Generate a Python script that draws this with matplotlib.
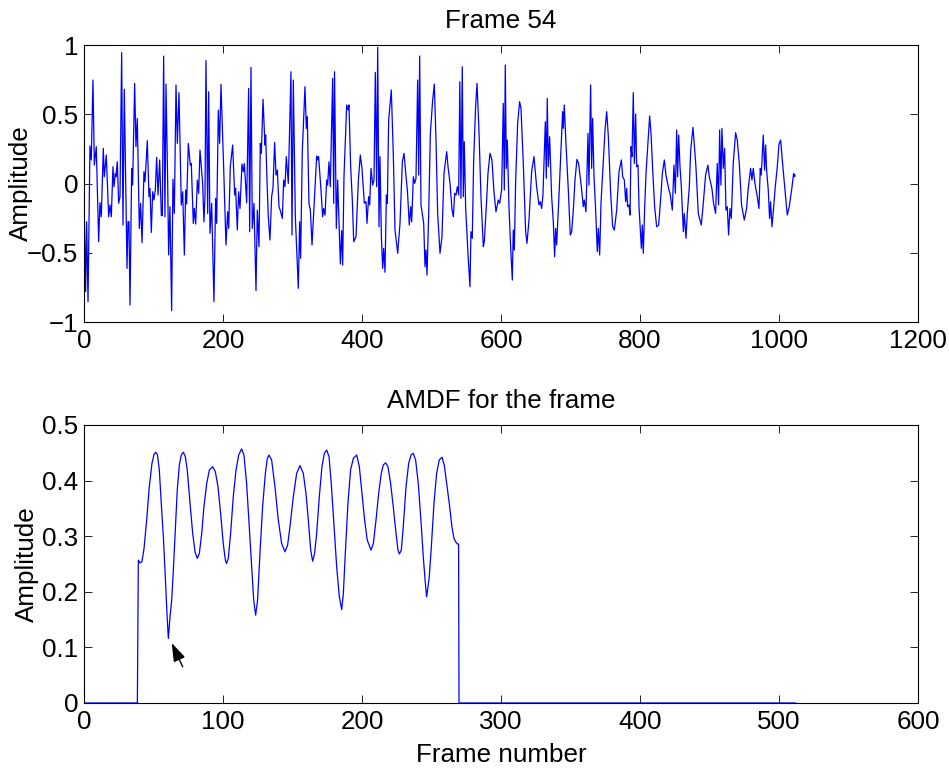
import matplotlib
matplotlib.use("Agg")
import matplotlib.pyplot as plt

plt.rcParams['font.family'] = ['Liberation Sans', 'DejaVu Sans']

# ---- Top panel: speech frame (sample index, amplitude) ----
frame_idx = [
    0, 2.4, 3.8, 5.8, 8.6, 10.5, 12.9, 14.9, 17.7, 21.1, 23.0, 24.9, 27.8, 29.2, 32.1,
    35.5, 37.4, 39.3, 41.7, 43.2, 45.1, 46.0, 47.9, 49.9, 51.8, 54.2, 56.1, 58.0, 61.9,
    63.3, 64.7, 66.2, 68.6, 70.0, 72.9, 74.8, 76.7, 79.6, 81.5, 83.5, 86.3, 87.8, 91.1,
    93.5, 95.0, 96.9, 98.8, 100.7, 102.6, 104.6, 106.5, 108.9, 111.3, 112.7, 114.6, 116.5,
    118.0, 120.4, 121.8, 123.7, 126.1, 128.0, 130.0, 132.4, 134.3, 136.7, 138.1, 140.0,
    142.0, 144.4, 146.3, 147.7, 150.1, 153.0, 154.4, 157.3, 158.7, 160.7, 163.1, 165.0,
    166.9, 168.8, 170.7, 172.6, 174.1, 175.5,
    178.0, 179.4, 181.3, 183.7, 187.0, 189.4, 190.9, 193.3, 195.2, 197.1, 201.0, 204.3,
    206.7, 208.2, 210.5, 213.9, 216.8, 218.2, 220.6, 222.5, 224.5, 227.3, 229.3, 230.7,
    234.1, 236.9, 238.4, 240.3, 242.2, 244.6, 247.5, 249.4, 251.8, 253.7, 255.2, 257.6,
    260.4, 261.4, 263.3, 265.2, 267.6, 270.0, 271.9, 274.3, 276.3, 278.2, 280.6, 283.0,
    285.4, 287.3, 289.2, 291.1, 294.0, 297.8, 299.3, 301.2, 304.1, 308.4, 310.3, 311.7,
    314.1, 318.0, 319.9, 321.3, 323.7, 325.7, 328.1, 332.4, 334.8, 336.2, 337.6, 341.0,
    343.4, 344.9, 346.8, 349.2, 350.6, 352.5, 354.4, 357.8, 359.3, 360.5,
    363.1, 365.0, 368.9, 370.8, 372.2, 374.1, 378.0, 379.9, 381.3, 383.7, 386.1, 388.1,
    391.4, 394.8, 397.6, 400.0, 403.4, 405.8, 407.2, 409.6, 411.1, 413.0, 415.4, 417.3,
    419.2, 421.1, 422.6, 424.5, 425.9, 427.9, 429.8, 431.2, 433.1, 435.1, 436.5, 438.4,
    442.2, 445.1, 447.5, 451.4, 454.7, 458.1, 460.5, 463.4, 465.3, 468.1, 470.1, 471.5,
    473.9, 475.8, 477.7, 480.1, 481.6, 483.0, 484.9, 488.8, 490.7, 492.1, 493.6, 496.0,
    498.4, 501.7, 504.1, 506.5, 508.9, 512.3, 515.1, 518.0, 521.9, 523.8, 526.7, 529.6,
    531.5, 533.4, 535.3, 537.2, 539.1, 540.8,
    542.4, 544.3, 545.8, 547.2, 549.2, 551.5, 553.0, 555.4, 556.8, 558.7, 560.7, 563.5,
    565.5, 568.3, 571.2, 574.6, 576.0, 579.4, 581.3, 584.2, 587.0, 589.9, 592.8, 596.2,
    598.1, 601.0, 603.3, 604.8, 606.2, 607.7, 609.1, 611.5, 613.9, 616.3, 617.7, 619.2,
    621.1, 624.0, 626.8, 628.8, 632.1, 635.5, 637.4, 640.3, 644.1, 647.5, 651.3, 654.7,
    656.6, 658.5, 660.4, 663.8, 665.2, 666.6, 668.1, 670.0, 672.9, 675.3, 677.2, 678.6,
    680.1, 683.4, 686.3, 688.7, 689.7, 691.1, 693.5, 696.9, 699.7, 701.7, 704.1, 706.5,
    709.3, 711.7,
    715.6, 718.5, 719.9, 722.3, 725.2, 726.6, 729.0, 730.5, 731.9, 733.8, 736.2, 738.6,
    740.1, 742.0, 743.9, 747.3, 749.7, 752.1, 754.5, 757.8, 760.7, 763.1, 766.5, 769.8,
    773.2, 775.1, 777.5, 779.4, 780.8, 782.3, 784.2, 785.7, 787.1, 788.5, 790.4, 791.9,
    793.8, 795.2, 797.2, 798.6, 802.0, 803.4, 804.8, 806.7, 808.7, 811.5, 813.9, 815.9,
    818.3, 821.1, 824.0, 826.9, 829.8, 832.2, 835.0, 837.4, 841.7, 843.7, 846.5, 848.9,
    850.9, 852.8, 854.2, 855.7, 857.6, 859.5, 862.4, 863.8, 866.2, 868.1, 871.0, 873.0,
    876.3,
    877.7, 880.5, 883.9, 888.2, 891.1, 894.4, 897.8, 899.7, 903.5, 905.9, 908.8, 911.2,
    913.1, 914.6, 916.5, 917.9, 919.9, 921.8, 923.7, 925.6, 927.5, 929.5, 931.4, 934.2,
    937.6, 940.0, 942.9, 946.2, 950.1, 953.4, 955.8, 959.2, 961.1, 963.0, 965.4, 968.8,
    971.2, 973.1, 974.5, 977.4, 979.3, 980.8, 982.2, 984.6, 986.5, 987.9, 989.9, 991.8,
    994.7, 997.6, 1000.0, 1002.4, 1005.2, 1008.6, 1011.9, 1014.8, 1018.2, 1021.1, 1022.5,
    1023.0,
]
frame_amp = [
    -0.083, -0.78, -0.276, -0.853, 0.271, 0.17, 0.747, 0.133, 0.266, -0.42, -0.139, -0.24,
    0.254, 0.049, 0.206, -0.24, -0.155, -0.24, 0.121, -0.023, 0.073, 0.049, 0.157, -0.143,
    -0.095, 0.945, -0.30, 0.68, -0.613, -0.276, -0.276, -0.877, 0.109, -0.011, 0.723,
    0.266, 0.47, -0.324, -0.143, -0.427, 0.085, 0.013, 0.309, -0.095, -0.035, -0.353,
    -0.059, -0.119, -0.047, 0.189, -0.083, 0.17, -0.232, -0.232, 0.92, -0.24, 0.718,
    0.013, -0.516, -0.167, -0.918, 0.03, -0.216, 0.711, 0.29, 0.656, 0.314, -0.155,
    -0.059, -0.516, -0.047, -0.148, 0.29, 0.133, 0.145, -0.288, -0.18, -0.293, 0.025,
    -0.071, 0.242, 0.121, 0.001, -0.276, -0.095, 0.887,
    -0.216, 0.663, -0.36, -0.143, -0.853, -0.107, -0.288, 0.53, 0.29, 0.716, 0.109,
    -0.444, -0.204, -0.324, 0.121, 0.278, -0.083, -0.035, -0.336, -0.059, -0.18, 0.141,
    0.085, 0.145, -0.139, 0.687, -0.348, 0.839, -0.324, -0.143, -0.774, -0.192, -0.456,
    0.29, 0.218, 0.608, 0.278, 0.35, 0.025, -0.24, -0.408, -0.095, -0.035, 0.297, 0.061,
    0.097, -0.167, -0.204, -0.252, 0.025, -0.023, 0.194, 0.001, 0.807, -0.372, 0.747,
    -0.24, -0.757, -0.276, -0.54, 0.23, 0.699, 0.398, 0.482, -0.143, -0.192, -0.444,
    -0.035, 0.198, 0.17, 0.194, -0.047, -0.24, -0.18, -0.228, 0.025, -0.011, 0.157,
    -0.023, 0.759, -0.143, 0.807,
    -0.324, 0.025, -0.581, -0.34, -0.589, 0.049, 0.567, 0.531, 0.567, 0.121, -0.119,
    -0.42, -0.384, 0.025, 0.206, 0.109, -0.143, -0.131, -0.288, -0.095, -0.155, 0.109,
    -0.011, 0.025, 0.802, -0.023, 0.983, -0.312, 0.194, -0.384, -0.613, -0.468, -0.641,
    -0.083, -0.143, 0.458, 0.675, 0.206, -0.336, -0.504, -0.288, 0.157, 0.218, 0.049,
    -0.047, -0.30, -0.167, -0.276, 0.049, 0.001, 0.037, 0.747, 0.061, 0.92, -0.155,
    -0.288, -0.601, -0.48, -0.661, -0.216, 0.362, 0.603, 0.718, 0.314, -0.216, -0.504,
    -0.384, 0.073, 0.23, 0.121, 0.001, -0.192, -0.24, -0.071, -0.083, -0.023, -0.083,
    0.735,
    -0.107, 0.843, -0.095, 0.302, -0.18, -0.408, -0.552, -0.745, -0.348, -0.396, 0.17,
    0.555, 0.723, 0.386, -0.095, -0.456, -0.42, -0.119, 0.073, 0.218, 0.17, -0.059,
    -0.204, -0.119, -0.143, -0.042, 0.579, -0.047, 0.856, 0.109, 0.314, -0.167, -0.456,
    -0.697, -0.336, -0.48, 0.013, 0.435, 0.591, 0.543, 0.145, -0.348, -0.432, -0.264,
    0.085, 0.194, -0.023, -0.155, -0.131, -0.18, -0.083, 0.446, 0.037, 0.615, 0.121,
    0.338, -0.095, -0.276, -0.528, -0.324, -0.444, -0.095, 0.242, 0.519, 0.398, 0.567,
    0.29, -0.047, -0.372, -0.348, -0.192, 0.025, 0.174, 0.145,
    -0.023, -0.167, -0.119, -0.204, 0.362, -0.011, 0.711, 0.109, 0.47, 0.061, -0.192,
    -0.492, -0.324, -0.516, -0.143, 0.17, 0.386, 0.519, 0.338, -0.071, -0.312, -0.336,
    -0.192, 0.085, 0.17, 0.049, 0.025, -0.131, -0.035, -0.167, -0.155, -0.228, 0.266,
    0.194, 0.656, 0.145, 0.502, 0.121, 0.133, -0.167, -0.468, -0.30, -0.504, -0.18,
    0.073, 0.29, 0.487, 0.362, 0.097, -0.167, -0.312, -0.30, -0.107, 0.073, 0.17, 0.061,
    -0.047, -0.083, -0.192, 0.133, -0.071, 0.386, 0.049, 0.35, 0.121, -0.023, -0.348,
    -0.216, -0.396, -0.216, -0.023, 0.242, 0.405,
    0.314, 0.121, -0.216, -0.30, -0.143, 0.061, 0.133, 0.049, -0.035, -0.143, -0.216,
    0.145, -0.155, 0.386, -0.011, 0.398, 0.109, 0.254, -0.192, -0.167, -0.372, -0.18,
    -0.252, 0.145, 0.367, 0.314, 0.145, -0.155, -0.264, -0.18, -0.035, 0.109, 0.025,
    0.109, 0.001, -0.095, -0.18, 0.109, 0.061, 0.35, 0.097, 0.278, 0.097, -0.047,
    -0.252, -0.131, -0.312, -0.204, -0.023, 0.121, 0.285, 0.314, 0.145, -0.047, -0.228,
    -0.167, -0.047, 0.073, 0.049, 0.061,
]

# ---- Bottom panel: AMDF (lag, value) ----
amdf_lag = [
    0, 38.4, 39.1, 40.3, 41.7, 43.2, 45.1, 47.0, 48.9, 50.4, 51.6, 52.8, 54.2, 55.6,
    57.1, 58.5, 59.7, 60.7, 61.9, 63.1, 64.3, 65.7, 67.1, 68.6, 70.0, 71.5, 72.9, 74.3,
    76.3, 78.2, 79.9, 81.5, 83.0, 84.7, 86.3, 88.3, 90.2, 92.6, 94.5, 96.4, 98.3, 100.2,
    101.7, 102.6, 103.8, 105.5, 107.4, 109.4, 111.3, 113.4, 115.1, 117.0, 118.9, 120.6,
    122.1, 123.5, 124.9, 126.6, 128.5, 130.5, 131.9, 133.1, 135.0, 137.4, 139.8, 142.2,
    144.6, 146.5, 148.2, 150.6, 153.0,
    155.4, 157.8, 159.7, 161.4, 163.1, 164.5, 165.9, 167.4, 169.3, 171.2, 172.9, 174.6,
    176.3, 177.9, 179.9, 181.8, 183.7, 185.4, 186.6, 188.0, 189.9, 191.8, 193.8, 196.2,
    198.1, 200.0, 201.9, 203.8, 206.5, 208.2, 210.1, 212.0, 213.9, 215.3, 217.0, 218.7,
    220.6, 222.5, 224.5, 225.9, 226.9, 228.3, 229.7, 231.7, 233.6, 235.3, 236.9, 238.6,
    240.5, 242.4, 244.1, 245.6, 246.5, 247.5, 248.4, 249.9, 251.8, 253.7, 255.6, 257.6,
    259.2, 260.9, 262.8, 264.7, 266.2, 267.4, 268.6, 269.5, 269.8, 512,
]
amdf_val = [
    0, 0, 0.257, 0.252, 0.254, 0.278, 0.329, 0.389, 0.431, 0.447, 0.451, 0.447, 0.419,
    0.359, 0.299, 0.227, 0.161, 0.116, 0.155, 0.185, 0.239, 0.311, 0.383, 0.428, 0.446,
    0.451, 0.443, 0.419, 0.359, 0.305, 0.272, 0.260, 0.269, 0.305, 0.353, 0.395, 0.419,
    0.425, 0.416, 0.389, 0.341, 0.287, 0.257, 0.251, 0.260, 0.305, 0.371, 0.419, 0.446,
    0.457, 0.446, 0.395, 0.317, 0.245, 0.185, 0.158, 0.185, 0.269, 0.353, 0.413, 0.440,
    0.446, 0.437, 0.389, 0.329, 0.287, 0.272, 0.284, 0.317, 0.371, 0.413,
    0.427, 0.413, 0.377, 0.329, 0.275, 0.255, 0.269, 0.305, 0.371, 0.425, 0.449, 0.455,
    0.443, 0.395, 0.317, 0.245, 0.191, 0.168, 0.197, 0.269, 0.359, 0.419, 0.440, 0.446,
    0.425, 0.377, 0.329, 0.293, 0.275, 0.287, 0.329, 0.377, 0.413, 0.428, 0.432, 0.425,
    0.395, 0.353, 0.305, 0.275, 0.268, 0.275, 0.317, 0.389, 0.431, 0.446, 0.449, 0.437,
    0.395, 0.329, 0.263, 0.215, 0.191, 0.209, 0.227, 0.281, 0.359, 0.413, 0.437, 0.442,
    0.428, 0.395, 0.359, 0.317, 0.296, 0.290, 0.286, 0.286, 0, 0,
]

# annotation arrow (tail -> tip) in data units
arrow_tip = (63.1, 0.108)
arrow_tail = (71.0, 0.065)

top_xticks = [0, 200, 400, 600, 800, 1000, 1200]
top_yticks = [-1, -0.5, 0, 0.5, 1]
top_yticklabels = ['\u22121', '\u22120.5', '0', '0.5', '1']
bot_xticks = [0, 100, 200, 300, 400, 500, 600]
bot_yticks = [0, 0.1, 0.2, 0.3, 0.4, 0.5]
bot_yticklabels = ['0', '0.1', '0.2', '0.3', '0.4', '0.5']

FS = 18.7

fig = plt.figure(figsize=(9.49, 7.72), dpi=100)
ax1 = fig.add_axes([0.0885, 0.5829, 0.8788, 0.3588])
ax2 = fig.add_axes([0.0885, 0.0894, 0.8788, 0.3601])

ax1.plot(frame_idx, frame_amp, color=(0, 0, 1), lw=0.9)
ax1.set_xlim(0, 1200)
ax1.set_ylim(-1, 1)
ax1.set_xticks(top_xticks)
ax1.set_xticklabels([str(t) for t in top_xticks])
ax1.set_yticks(top_yticks)
ax1.set_yticklabels(top_yticklabels)
ax1.set_title('Frame 54', fontsize=FS, pad=12.5)
ax1.set_ylabel('Amplitude', fontsize=FS)
ax1.yaxis.set_label_coords(-0.0606, 0.5)

ax2.plot(amdf_lag, amdf_val, color=(0, 0, 1), lw=0.9)
ax2.set_xlim(0, 600)
ax2.set_ylim(0, 0.5)
ax2.set_xticks(bot_xticks)
ax2.set_xticklabels([str(t) for t in bot_xticks])
ax2.set_yticks(bot_yticks)
ax2.set_yticklabels(bot_yticklabels)
ax2.set_title('AMDF for the frame', fontsize=FS, pad=12.5)
ax2.set_ylabel('Amplitude', fontsize=FS)
ax2.yaxis.set_label_coords(-0.0534, 0.5)
ax2.set_xlabel('Frame number', fontsize=FS, labelpad=6.5)
ax2.annotate('', xy=arrow_tip, xytext=arrow_tail,
             arrowprops=dict(arrowstyle='-|>,head_length=0.75,head_width=0.25',
                             color='k', lw=1.0, mutation_scale=15,
                             shrinkA=0, shrinkB=0))

for ax in (ax1, ax2):
    for sp in ax.spines.values():
        sp.set_linewidth(0.8)
        sp.set_color('black')
    ax.tick_params(direction='in', length=6, width=0.6, top=True, right=True,
                   labelsize=FS, colors='black')
    ax.tick_params(axis='x', pad=5)
    ax.tick_params(axis='y', pad=4)

fig.savefig('out.png', dpi=100)
